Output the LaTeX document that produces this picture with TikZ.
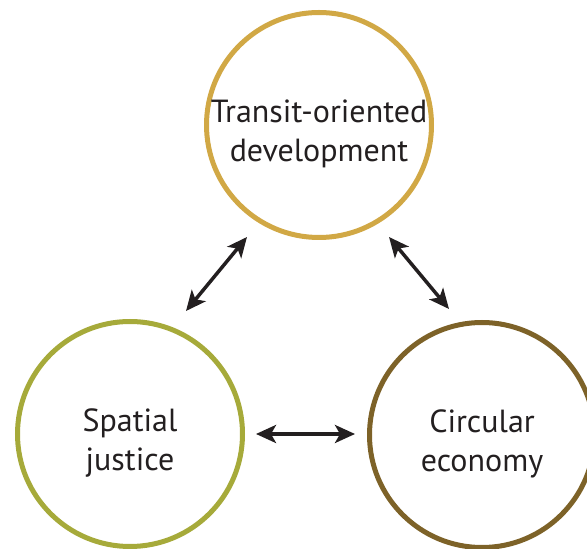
\documentclass[tikz,border=0pt]{standalone}
\usepackage{fontspec}
\setmainfont{PT Sans}
\usetikzlibrary{arrows.meta}
\definecolor{topc}{HTML}{D1A845}
\definecolor{leftc}{HTML}{A6AA3A}
\definecolor{rightc}{HTML}{7D6228}
\definecolor{txt}{HTML}{231F20}
\begin{document}
\begin{tikzpicture}[x=1pt,y=1pt,
  ring/.style={circle,draw,line width=5pt,minimum size=225pt,inner sep=0pt},
  lbl/.style={align=center,font=\fontsize{32}{39.5}\selectfont,text=txt,inner sep=0pt},
  link/.style={line width=3.5pt,draw=txt,{Stealth[length=20pt,width=18pt,inset=5pt]}-{Stealth[length=20pt,width=18pt,inset=5pt]}}]
\useasboundingbox (0,0) rectangle (587,549);
\node[ring,draw=topc] (tod) at (319,424) {};
\node[ring,draw=leftc] (sj) at (130,115) {};
\node[ring,draw=rightc] (ce) at (482,114) {};
\node[lbl] (todt) at ([yshift=-9pt]tod.center) {Transit-oriented\\development};
\node[lbl] (sjt) at ([yshift=-9pt]sj.center) {Spatial\\justice};
\node[lbl] (cet) at ([yshift=-9pt]ce.center) {Circular\\economy};
\coordinate (l1) at (186,238);
\coordinate (l2) at (247,312);
\coordinate (r1) at (389,312);
\coordinate (r2) at (449,240);
\coordinate (h1) at (256,115);
\coordinate (h2) at (355,115);
\draw[link] (l1) -- (l2);
\draw[link] (r1) -- (r2);
\draw[link] (h1) -- (h2);
\end{tikzpicture}
\end{document}
